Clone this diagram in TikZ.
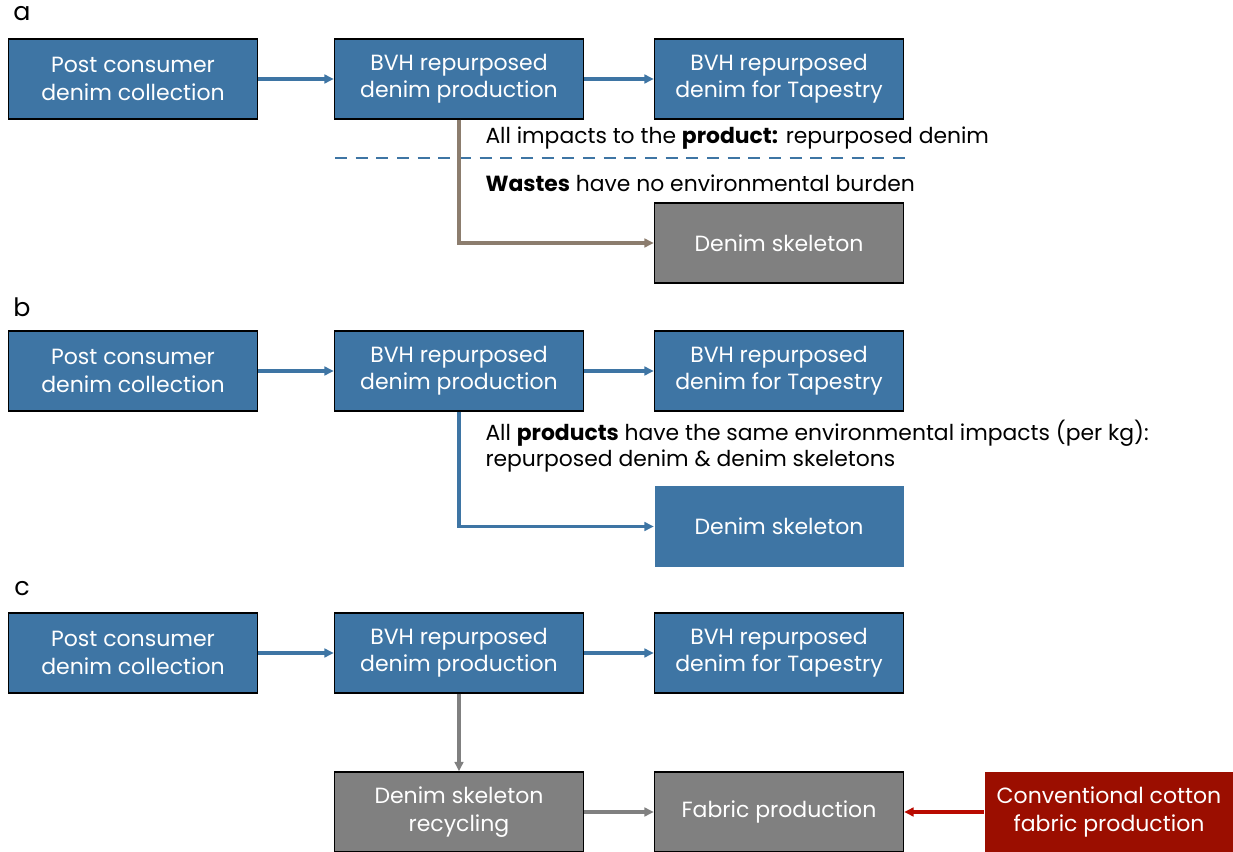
\documentclass[tikz,border=0pt]{standalone}
\usepackage{fontspec}
\setmainfont{Poppins}
\usetikzlibrary{arrows.meta}

\definecolor{denimblue}{RGB}{62,117,164}
\definecolor{skelgray}{RGB}{128,128,128}
\definecolor{cottonred}{RGB}{155,14,0}
\definecolor{wastebrown}{RGB}{140,125,110}

\tikzset{every picture/.style={line width=0.75pt}}
\tikzset{
  stage/.style={draw=black, line width=1.1pt, fill=denimblue, text=white, minimum width=249*0.75pt, minimum height=80*0.75pt, align=center, font=\fontsize{16.5}{20.5}\selectfont, inner sep=0pt},
  greystage/.style={stage, fill=skelgray},
  redstage/.style={stage, draw=none, fill=cottonred},
  bluestage/.style={stage, draw=none},
  flow/.style={-{Triangle[length=7pt,width=6.5pt]}, line width=2.4pt},
  note/.style={anchor=west, align=left, font=\fontsize{16.4}{19.5}\selectfont, inner sep=0pt},
  panel/.style={font=\fontsize{19}{22}\selectfont, inner sep=0pt}
}

\begin{document}
\begin{tikzpicture}[x=0.75pt,y=0.75pt,yscale=-1,xscale=1]
	\useasboundingbox (0,0) rectangle (1233,852);

	% Panel a
	\node[panel] (la) at (22,14) {a};
	\node[stage] (pca) at (133,79) {Post consumer\\denim collection};
	\node[stage] (bvha) at (459,79) {BVH repurposed\\denim production};
	\node[stage] (tapa) at (779,79) {BVH repurposed\\denim for Tapestry};
	\node[greystage] (skela) at (779,243) {Denim skeleton};
	\node[note] (impa) at (485,138) {All impacts to the \textbf{product:} repurposed denim};
	\node[note] (wasa) at (485,183) {\textbf{Wastes} have no environmental burden};
	\coordinate (dasha) at (335,158);
	\coordinate (dashb) at (905,158);
	\draw[denimblue, line width=2.2pt, dash pattern=on 9pt off 6.5pt] (dasha) -- (dashb);
	\draw[flow, denimblue] (pca) -- (bvha);
	\draw[flow, denimblue] (bvha) -- (tapa);
	\draw[flow, wastebrown] (bvha.south) |- (skela.west);

	% Panel b
	\node[panel] (lb) at (22,307) {b};
	\node[stage] (pcb) at (133,371) {Post consumer\\denim collection};
	\node[stage] (bvhb) at (459,371) {BVH repurposed\\denim production};
	\node[stage] (tapb) at (779,371) {BVH repurposed\\denim for Tapestry};
	\node[bluestage] (skelb) at (779,526.5) {Denim skeleton};
	\node[note] (impb) at (485,446) {All \textbf{products} have the same environmental impacts (per kg):\\repurposed denim \& denim skeletons};
	\draw[flow, denimblue] (pcb) -- (bvhb);
	\draw[flow, denimblue] (bvhb) -- (tapb);
	\draw[flow, denimblue] (bvhb.south) |- (skelb.west);

	% Panel c
	\node[panel] (lc) at (22,589) {c};
	\node[stage] (pcc) at (133,653) {Post consumer\\denim collection};
	\node[stage] (bvhc) at (459,653) {BVH repurposed\\denim production};
	\node[stage] (tapc) at (779,653) {BVH repurposed\\denim for Tapestry};
	\node[greystage] (recyc) at (459,812) {Denim skeleton\\recycling};
	\node[greystage] (fabc) at (779,812) {Fabric production};
	\node[redstage] (cotc) at (1109,812) {Conventional cotton\\fabric production};
	\draw[flow, denimblue] (pcc) -- (bvhc);
	\draw[flow, denimblue] (bvhc) -- (tapc);
	\draw[flow, skelgray] (bvhc) -- (recyc);
	\draw[flow, skelgray] (recyc) -- (fabc);
	\draw[flow, cottonred!70!red] (cotc) -- (fabc);

\end{tikzpicture}
\end{document}
